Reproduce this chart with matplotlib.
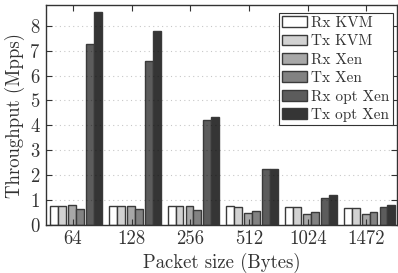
import matplotlib
matplotlib.use("Agg")
import matplotlib.pyplot as plt
import numpy as np

plt.rcParams['font.family'] = ['cmr10', 'DejaVu Serif']
plt.rcParams['axes.formatter.use_mathtext'] = True
plt.rcParams['mathtext.fontset'] = 'cm'

categories = ["64", "128", "256", "512", "1024", "1472"]
series_names = ["Rx KVM", "Tx KVM", "Rx Xen", "Tx Xen", "Rx opt Xen", "Tx opt Xen"]
rx_kvm = [0.77, 0.77, 0.77, 0.75, 0.71, 0.67]
tx_kvm = [0.77, 0.77, 0.77, 0.72, 0.71, 0.67]
rx_xen = [0.82, 0.78, 0.77, 0.50, 0.45, 0.43]
tx_xen = [0.64, 0.63, 0.59, 0.58, 0.54, 0.53]
rx_opt_xen = [7.28, 6.57, 4.20, 2.25, 1.10, 0.74]
tx_opt_xen = [8.54, 7.80, 4.35, 2.24, 1.19, 0.80]
values = [rx_kvm, tx_kvm, rx_xen, tx_xen, rx_opt_xen, tx_opt_xen]
colors = ["#ffffff", "#d2d2d2", "#a8a8a8", "#828282", "#5c5c5c", "#353535"]

fig = plt.figure(figsize=(3.98, 2.73), dpi=100)
ax = fig.add_axes([46/398, 48/273, (397-46)/398, (225-5.3)/273])

x = np.arange(len(categories))
bw = 0.135
offsets = [-0.37, -0.235, -0.065, 0.07, 0.24, 0.375]
shift = 0.05
for vals, name, col, off in zip(values, series_names, colors, offsets):
    ax.bar(x + shift + off, vals, width=bw, color=col, edgecolor="#3a3a3a",
           linewidth=1.0, label=name, zorder=2)

ax.set_xlim(-0.46, 5.52)
ax.set_ylim(0, 8.82)
ax.set_xticks(x)
ax.set_xticklabels(categories)
ax.set_yticks(range(0, 9))
ax.tick_params(direction="in", top=True, right=True, length=4, width=0.8,
               labelsize=13.5, color="#333333", labelcolor="#333333", pad=4)
for s in ax.spines.values():
    s.set_color("#333333")
    s.set_linewidth(1.0)
ax.yaxis.grid(True, linestyle=(0, (1, 3)), color="black", alpha=0.22, linewidth=0.8, zorder=3)
ax.set_axisbelow(False)

ax.set_ylabel("Throughput (Mpps)", fontsize=13.5, color="#333333", labelpad=3)
ax.set_xlabel("Packet size (Bytes)", fontsize=13.5, color="#333333", labelpad=3)

leg = ax.legend(loc="upper right", bbox_to_anchor=(0.988, 0.9636), borderaxespad=0,
                fontsize=11, fancybox=False, framealpha=1, edgecolor="#333333",
                handlelength=1.6, handleheight=0.7, labelspacing=0.3,
                handletextpad=0.3, borderpad=0.2)
leg.get_frame().set_linewidth(0.8)
for t in leg.get_texts():
    t.set_color("#333333")

fig.savefig("out.png", dpi=100)
